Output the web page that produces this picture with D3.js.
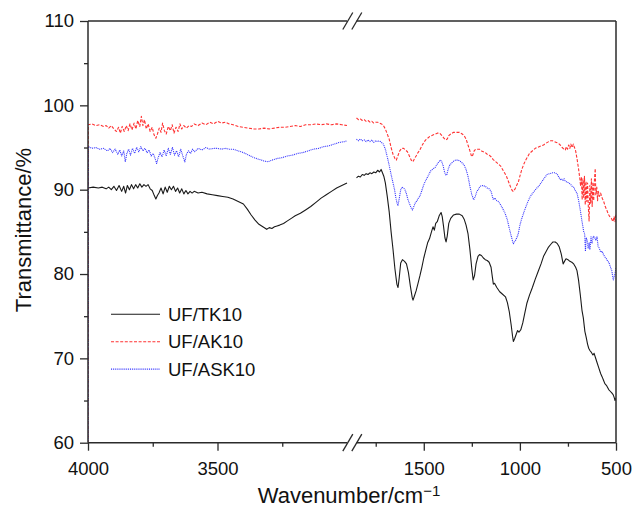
<!DOCTYPE html>
<html><head><meta charset="utf-8">
<script src="https://cdn.jsdelivr.net/npm/d3@7"></script>
<style>
body{margin:0;background:#fff}
svg{display:block}
text{font-family:"Liberation Sans",Arial,Helvetica,sans-serif;fill:#111}
</style>
</head><body><svg id="chart" width="632" height="509"></svg>
<script>
// ---------- data ----------
const xSegments = [4000, 3000, 1850, 500];          // broken x axis: 4000-3000 | 1850-500
const yTicks = [60, 70, 80, 90, 100, 110];
const yMinorTicks = [65, 75, 85, 95, 105];
const xTicks = [4000, 3500, 1500, 1000, 500];
const xMinorTicks = [3750, 3250, 1750, 1250, 750];
const seriesNames = ["UF/TK10", "UF/AK10", "UF/ASK10"];

// [wavenumber, transmittance]
const tk10 = [
[4000,90.2],[3980,90.3],[3960,90.2],[3945,90.3],[3930,90.1],[3920,90.3],[3910,90.0],[3900,90.4],[3890,89.9],[3880,90.5],
[3870,89.8],[3862,90.4],[3855,89.6],[3848,90.5],[3840,90.0],[3832,90.6],[3824,90.1],[3816,90.6],[3808,90.2],[3800,90.7],
[3792,90.3],[3784,90.6],[3776,90.4],[3768,90.6],[3760,90.1],[3752,89.9],[3744,89.3],[3738,88.9],[3732,89.3],[3726,89.6],
[3718,90.2],[3710,89.5],[3702,90.3],[3694,89.7],[3686,90.4],[3678,90.0],[3670,90.4],[3662,89.8],[3654,90.2],[3646,89.6],
[3638,90.1],[3630,89.5],[3622,89.9],[3614,89.5],[3606,89.8],[3598,89.6],[3590,89.8],[3575,89.6],[3560,89.7],[3540,89.5],
[3520,89.4],[3500,89.3],[3480,89.2],[3460,89.1],[3440,88.9],[3420,88.6],[3400,88.3],[3385,87.7],[3370,87.0],[3355,86.4],
[3340,85.9],[3325,85.6],[3310,85.3],[3300,85.5],[3290,85.4],[3280,85.6],[3270,85.7],[3260,85.8],[3245,86.0],[3230,86.3],
[3215,86.6],[3200,86.9],[3180,87.2],[3160,87.6],[3140,88.0],[3120,88.5],[3100,89.0],[3080,89.4],[3060,89.8],[3040,90.2],
[3020,90.5],[3000,90.8],
[1850,91.4],[1840,91.6],[1830,91.5],[1820,91.8],[1810,91.7],[1800,91.9],[1790,91.8],[1780,92.0],[1770,91.9],[1760,92.1],
[1750,92.0],[1740,92.3],[1730,92.1],[1722,92.4],[1715,92.0],[1708,91.6],[1700,90.8],[1690,89.2],[1680,87.4],[1670,85.0],
[1660,82.9],[1650,80.6],[1640,78.8],[1634,78.4],[1628,79.5],[1620,81.3],[1611,81.7],[1600,81.5],[1590,81.2],[1580,80.2],
[1570,78.6],[1560,77.2],[1556,76.9],[1550,77.3],[1540,78.0],[1530,78.9],[1520,79.8],[1510,80.8],[1500,81.9],[1490,82.8],
[1480,83.7],[1470,84.2],[1460,85.0],[1452,85.6],[1445,85.2],[1438,86.0],[1430,86.2],[1420,86.9],[1410,87.3],[1404,86.8],
[1398,85.8],[1390,84.3],[1384,83.8],[1378,84.5],[1370,86.0],[1360,86.6],[1345,87.0],[1330,87.1],[1315,87.1],[1300,86.9],
[1290,86.5],[1280,85.8],[1270,84.8],[1260,82.9],[1250,80.6],[1243,79.3],[1236,79.8],[1228,81.2],[1218,82.1],[1210,82.3],
[1200,82.2],[1190,81.9],[1180,81.7],[1170,81.6],[1160,81.4],[1150,80.8],[1143,79.6],[1138,78.8],[1132,78.9],[1120,78.4],
[1105,77.9],[1090,77.6],[1075,77.3],[1065,76.6],[1055,75.5],[1045,73.9],[1038,72.6],[1034,72.0],[1028,72.3],[1020,72.8],
[1012,73.3],[1005,73.1],[995,73.4],[985,74.2],[975,75.3],[964,76.5],[950,77.5],[935,78.4],[920,79.4],[905,80.3],
[890,81.2],[877,82.1],[865,82.6],[851,83.2],[840,83.5],[828,83.8],[816,83.8],[805,83.6],[795,83.2],[785,82.4],
[775,81.2],[768,81.5],[760,81.8],[750,81.7],[740,81.5],[730,81.4],[720,81.2],[710,80.8],[703,80.4],[695,79.3],
[685,77.4],[677,75.7],[670,74.8],[666,74.0],[662,73.2],[655,72.5],[648,71.7],[642,71.2],[635,70.9],[628,70.7],
[620,70.4],[614,70.6],[607,70.1],[600,69.6],[590,68.9],[580,68.2],[572,67.8],[565,67.4],[558,67.0],[550,66.8],
[545,66.6],[538,66.3],[530,66.1],[522,65.9],[515,65.7],[510,65.4],[505,65.0],[500,65.3]
];

const ak10 = [
[4000,60],[3999,97.7],[3985,97.8],[3970,97.6],[3955,97.7],[3940,97.5],[3930,97.6],[3920,97.3],[3910,97.6],[3900,97.2],
[3890,96.9],[3882,97.4],[3875,96.7],[3868,97.5],[3860,96.9],[3852,97.6],[3845,97.0],[3838,97.8],[3830,97.1],[3822,97.9],
[3815,97.2],[3808,98.2],[3800,97.5],[3794,98.7],[3788,97.6],[3782,98.3],[3775,97.2],[3768,97.8],[3760,96.9],[3752,97.4],
[3745,96.5],[3738,96.1],[3732,96.6],[3725,97.3],[3718,96.8],[3712,97.9],[3705,97.0],[3698,96.6],[3690,97.5],[3682,97.0],
[3675,97.7],[3668,96.7],[3660,97.4],[3652,96.9],[3645,97.8],[3638,97.2],[3630,97.6],[3620,97.3],[3610,97.6],[3600,97.5],
[3590,97.8],[3575,97.6],[3560,97.9],[3545,97.7],[3530,98.0],[3515,97.8],[3500,98.1],[3485,97.9],[3470,98.0],[3455,97.8],
[3440,97.7],[3420,97.5],[3400,97.4],[3380,97.3],[3360,97.2],[3340,97.2],[3320,97.3],[3300,97.2],[3280,97.3],[3260,97.4],
[3240,97.4],[3220,97.5],[3200,97.6],[3180,97.5],[3160,97.7],[3140,97.7],[3120,97.8],[3100,97.7],[3080,97.8],[3060,97.7],
[3040,97.8],[3020,97.7],[3000,97.6],
[1850,98.5],[1840,98.3],[1830,98.4],[1820,98.2],[1810,98.3],[1800,98.1],[1790,98.2],[1780,98.0],[1770,98.1],[1760,97.9],
[1750,98.0],[1740,98.0],[1730,97.9],[1720,97.8],[1710,97.6],[1700,97.2],[1690,96.6],[1680,96.0],[1670,95.0],[1660,94.2],
[1650,93.7],[1643,93.5],[1635,94.0],[1625,94.6],[1615,94.9],[1605,94.9],[1595,94.7],[1585,94.5],[1575,94.0],[1565,93.5],
[1556,93.3],[1548,93.7],[1540,94.0],[1530,94.4],[1521,94.7],[1510,95.2],[1500,95.6],[1490,95.9],[1480,96.1],[1470,96.3],
[1460,96.4],[1450,96.5],[1440,96.6],[1430,96.7],[1417,96.7],[1405,96.4],[1395,96.1],[1385,95.9],[1378,96.0],[1370,96.4],
[1360,96.6],[1345,96.8],[1330,96.8],[1315,96.8],[1300,96.6],[1290,96.4],[1280,96.0],[1270,95.3],[1260,94.6],[1251,93.9],
[1245,94.1],[1238,94.6],[1230,94.8],[1220,94.8],[1210,94.8],[1200,94.6],[1190,94.5],[1180,94.4],[1170,94.2],[1160,94.1],
[1150,93.9],[1140,93.6],[1130,93.4],[1120,93.2],[1110,93.0],[1100,92.8],[1090,92.4],[1080,92.0],[1070,91.6],[1060,91.0],
[1050,90.4],[1040,89.9],[1035,89.8],[1025,90.1],[1015,90.6],[1008,90.9],[1000,91.6],[990,92.4],[980,93.0],[970,93.5],
[960,93.9],[950,94.3],[940,94.5],[930,94.7],[920,94.9],[910,95.0],[900,95.1],[890,95.2],[877,95.3],[865,95.5],
[850,95.7],[840,95.8],[830,95.8],[820,95.7],[810,95.6],[800,95.5],[790,95.3],[780,95.0],[770,94.8],[764,94.7],
[758,95.1],[752,94.8],[746,95.3],[740,94.9],[735,95.4],[728,95.0],[722,95.4],[716,95.0],[710,94.6],[703,93.7],
[695,92.5],[688,91.3],[684,90.4],[680,91.5],[676,88.8],[672,91.3],[668,89.0],[664,91.6],[660,88.2],[656,91.0],
[652,88.6],[648,90.8],[644,88.0],[640,86.3],[636,90.5],[632,88.4],[628,91.3],[624,88.0],[620,90.9],[616,88.7],
[612,91.2],[608,92.5],[605,89.4],[600,90.3],[596,88.7],[592,89.8],[586,89.2],[580,89.6],[572,89.0],[564,88.6],
[556,88.0],[548,87.6],[540,87.1],[532,86.8],[524,86.6],[516,86.2],[510,86.8],[505,86.2],[500,87.2]
];

const ask10 = [
[4000,60],[3999,95.1],[3985,94.9],[3970,95.0],[3955,94.8],[3940,94.9],[3925,94.6],[3915,94.9],[3905,94.4],[3895,94.8],
[3885,94.2],[3877,94.7],[3870,94.0],[3862,94.6],[3856,93.3],[3850,94.3],[3843,94.8],[3836,94.1],[3828,94.9],[3820,94.3],
[3812,95.0],[3804,94.5],[3796,95.1],[3788,94.6],[3780,94.9],[3772,94.4],[3764,94.7],[3756,94.0],[3748,94.3],[3740,93.6],
[3735,93.1],[3730,93.7],[3722,94.4],[3714,93.9],[3706,94.7],[3698,94.0],[3690,94.9],[3682,94.2],[3674,95.0],[3666,94.1],
[3658,94.6],[3650,93.9],[3642,94.8],[3634,94.0],[3626,93.3],[3620,94.2],[3612,94.6],[3604,94.3],[3596,94.8],[3588,94.5],
[3575,94.9],[3560,94.7],[3545,95.0],[3530,94.8],[3515,94.9],[3500,94.9],[3485,94.8],[3470,94.9],[3455,94.8],[3440,94.8],
[3420,94.6],[3400,94.4],[3380,94.1],[3360,93.8],[3340,93.6],[3320,93.4],[3305,93.3],[3290,93.5],[3270,93.7],[3250,93.8],
[3230,94.0],[3210,94.1],[3190,94.3],[3170,94.4],[3150,94.6],[3130,94.8],[3110,94.9],[3090,95.1],[3070,95.2],[3050,95.4],
[3030,95.6],[3010,95.7],[3000,95.8],
[1850,96.0],[1840,95.8],[1830,96.0],[1820,95.8],[1810,95.9],[1800,95.7],[1790,95.9],[1780,95.7],[1770,95.9],[1760,95.6],
[1750,95.8],[1740,95.7],[1730,95.8],[1720,95.6],[1710,95.4],[1700,94.8],[1690,93.9],[1680,92.9],[1670,91.8],[1660,90.8],
[1652,90.0],[1645,89.0],[1638,88.3],[1634,88.1],[1628,88.9],[1620,90.0],[1614,90.3],[1605,90.2],[1598,90.0],[1590,89.5],
[1582,88.8],[1572,88.2],[1565,87.8],[1559,87.6],[1552,88.0],[1545,88.4],[1535,88.7],[1528,89.0],[1521,89.2],[1510,89.9],
[1500,90.6],[1490,91.1],[1478,91.6],[1465,92.2],[1450,92.5],[1442,92.6],[1434,92.9],[1425,93.2],[1414,93.5],[1408,93.4],
[1400,92.9],[1392,92.1],[1385,91.7],[1380,91.8],[1372,92.5],[1365,92.9],[1350,93.3],[1335,93.5],[1321,93.5],[1305,93.3],
[1290,92.9],[1280,92.4],[1270,91.6],[1260,90.4],[1250,89.4],[1240,88.8],[1232,89.2],[1224,89.8],[1216,90.0],[1208,90.4],
[1195,90.5],[1180,90.4],[1170,90.2],[1160,90.1],[1150,89.8],[1143,89.2],[1138,88.8],[1130,89.0],[1120,88.7],[1112,88.6],
[1100,88.2],[1088,87.7],[1077,87.2],[1065,86.4],[1055,85.4],[1045,84.5],[1038,83.9],[1034,83.6],[1025,83.9],[1016,84.3],
[1008,84.8],[1000,85.8],[990,86.6],[981,87.2],[970,87.9],[960,88.5],[946,89.2],[930,89.7],[915,90.1],[903,90.4],
[890,90.8],[875,91.3],[859,91.8],[845,91.9],[830,92.0],[816,92.0],[805,91.8],[795,91.4],[790,91.2],[784,91.3],
[776,91.1],[770,91.3],[764,91.0],[755,90.9],[745,90.8],[735,90.6],[729,90.4],[720,90.3],[712,89.9],[703,89.6],
[695,88.8],[686,87.6],[678,86.4],[672,85.6],[668,85.0],[663,84.8],[659,82.7],[655,84.3],[650,84.0],[645,83.0],
[640,83.7],[636,82.9],[630,84.4],[625,83.6],[618,84.5],[612,84.4],[605,84.0],[599,84.4],[593,83.3],[586,83.0],
[580,82.6],[572,82.7],[565,82.3],[557,82.0],[550,81.8],[543,81.5],[537,81.4],[530,80.9],[522,80.4],[514,79.3],
[508,79.8],[503,80.3],[500,80.7]
];

// ---------- layout / style ----------
const L = 88, R = 616, T = 21, B = 442.7;
const breakL = 347, breakR = 356.5;
const styles = [
  {color: "#1a1a1a", dash: null, width: 1.1},
  {color: "#ff3333", dash: "3,1.6", width: 1.1},
  {color: "#3333ff", dash: "1,0.9", width: 1.1}
];

const svg = d3.select("#chart");
const x = d3.scaleLinear().domain(xSegments).range([L, breakL, breakR, R]);
const y = d3.scaleLinear().domain([60, 110]).range([B, T]);

svg.append("defs").append("clipPath").attr("id", "clip")
  .append("rect").attr("x", L).attr("y", T).attr("width", R - L).attr("height", B - T);

const line = d3.line().x(d => x(d[0])).y(d => y(d[1]));
const allSeries = [tk10, ak10, ask10];
const plot = svg.append("g").attr("clip-path", "url(#clip)");
allSeries.forEach((data, i) => {
  const st = styles[i];
  const parts = [data.filter(d => d[0] >= xSegments[1]), data.filter(d => d[0] <= xSegments[2])];
  parts.forEach(p => {
    plot.append("path").datum(p).attr("d", line)
      .attr("fill", "none").attr("stroke", st.color)
      .attr("stroke-width", st.width)
      .attr("stroke-dasharray", st.dash)
      .attr("stroke-linejoin", "round");
  });
});

// axes
const axisColor = "#2b2b2b";
const yAxis = svg.append("g").attr("transform", `translate(${L},0)`)
  .call(d3.axisLeft(y).tickValues(yTicks).tickSize(8).tickPadding(6));
const yMinor = svg.append("g").attr("transform", `translate(${L},0)`)
  .call(d3.axisLeft(y).tickValues(yMinorTicks).tickSize(4).tickFormat(""));
const xAxis = svg.append("g").attr("transform", `translate(0,${B})`)
  .call(d3.axisBottom(x).tickValues(xTicks).tickSize(8).tickPadding(11).tickFormat(d3.format("d")));
const xMinor = svg.append("g").attr("transform", `translate(0,${B})`)
  .call(d3.axisBottom(x).tickValues(xMinorTicks).tickSize(4).tickFormat(""));
[yAxis, yMinor, xAxis, xMinor].forEach(g => {
  g.select(".domain").remove();
  g.selectAll(".tick line").attr("stroke", axisColor).attr("stroke-width", 1.3);
  g.selectAll(".tick text").attr("font-size", 18.5).attr("fill", "#111")
    .style("font-family", '"Liberation Sans", Arial, sans-serif');
});

// frame with break
const frame = svg.append("g").attr("stroke", axisColor).attr("stroke-width", 1.5).attr("fill", "none");
frame.append("line").attr("x1", L).attr("x2", L).attr("y1", T).attr("y2", B);
frame.append("line").attr("x1", R).attr("x2", R).attr("y1", T).attr("y2", B);
[T, B].forEach(yy => {
  frame.append("line").attr("x1", L).attr("x2", breakL).attr("y1", yy).attr("y2", yy);
  frame.append("line").attr("x1", breakR).attr("x2", R).attr("y1", yy).attr("y2", yy);
  [breakL + 0.8, breakR + 0.3].forEach(cx => {
    frame.append("line").attr("x1", cx - 5).attr("y1", yy + 8.5)
      .attr("x2", cx + 5).attr("y2", yy - 8.5).attr("stroke-width", 1.3);
  });
});

// axis titles
svg.append("text").attr("transform", "translate(31,230) rotate(-90)")
  .attr("text-anchor", "middle").attr("font-size", 22).text("Transmittance/%");
const xt = svg.append("text").attr("x", 349).attr("y", 503)
  .attr("text-anchor", "middle").attr("font-size", 22);
xt.append("tspan").text("Wavenumber/cm");
xt.append("tspan").attr("dy", -7).attr("font-size", 15).text("\u22121");

// legend
const lg = svg.append("g");
seriesNames.forEach((name, i) => {
  const yy = 314.3 + i * 27.4;
  const st = styles[i];
  lg.append("line").attr("x1", 111).attr("x2", 160).attr("y1", yy).attr("y2", yy)
    .attr("stroke", st.color).attr("stroke-width", st.width).attr("stroke-dasharray", st.dash);
  lg.append("text").attr("x", 168).attr("y", yy + 6.6).attr("font-size", 18.5).text(name);
});
</script>
</body></html>
